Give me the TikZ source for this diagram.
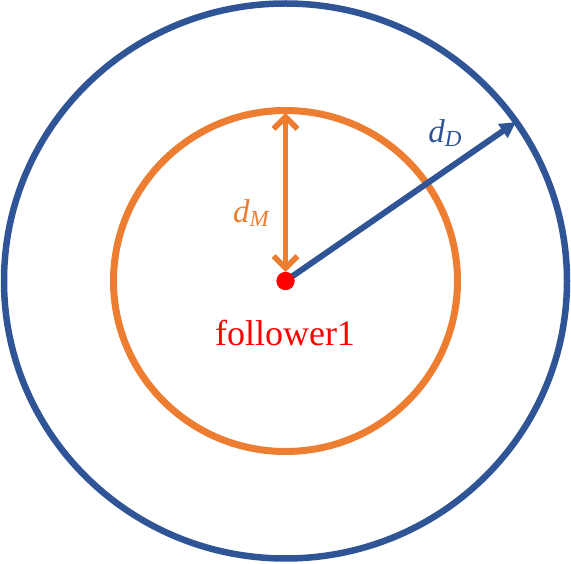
\documentclass[tikz,border=0pt]{standalone}
\usepackage{fontspec}
\setmainfont{Liberation Serif}
\usetikzlibrary{arrows.meta}
\definecolor{rangeblue}{RGB}{47,85,151}
\definecolor{rangeorange}{RGB}{237,125,49}
\newcommand\rlabel[2]{\fontsize{33}{36}\selectfont\itshape #1\raisebox{-0.3ex}{\fontsize{23}{26}\selectfont #2}}

\begin{document}
\begin{tikzpicture}[x=1pt,y=1pt]

\newcommand\CX{285.5}
\newcommand\CY{282}

  \useasboundingbox (0,0) rectangle (571,563);

  %% ranges
  \draw[rangeblue, line width=6.5pt] (\CX,\CY) ellipse (281.5 and 277.5);
  \draw[rangeorange, line width=7pt] (\CX,\CY) ellipse (172 and 170.5);

  %% follower and ends
  \node[circle, fill=red, inner sep=0pt, outer sep=0pt, minimum size=18pt] (f1) at (\CX,\CY) {};
  \coordinate (mtop) at (\CX,450);
  \coordinate (dend) at (516,441);

  %% radii
  \draw[rangeblue, line width=6pt, -{Triangle[length=16pt,width=16pt]}]
  (f1.center) -- (dend);
  \draw[rangeorange, line width=5.5pt, line cap=round,
  {Straight Barb[length=12pt,width=24pt]}-{Straight Barb[length=12pt,width=24pt]}]
  (mtop) -- (f1.north);
  \fill[red] (f1) circle (9pt);

  %% labels
  \node[rangeorange] (dm) at (251,350) {\rlabel{d}{M}};
  \node[rangeblue] (dd) at (445,430) {\rlabel{d}{D}};
  \node[red] (name) at (285,230) {\fontsize{36}{40}\selectfont follower1};

\end{tikzpicture}
\end{document}
